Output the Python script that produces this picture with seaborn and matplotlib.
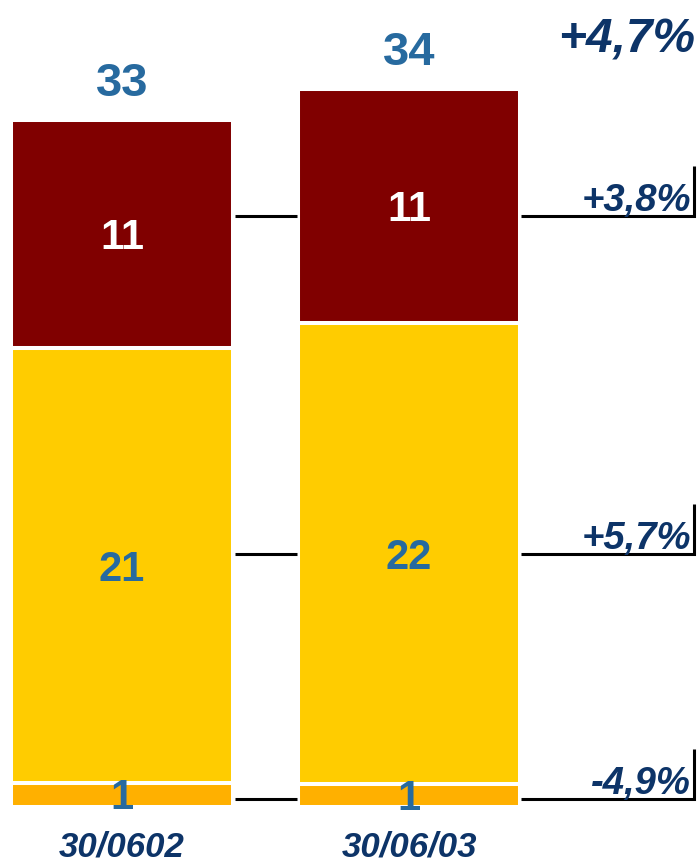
import matplotlib
matplotlib.use("Agg")
import matplotlib.pyplot as plt
import seaborn as sns
import pandas as pd
import numpy as np

# ---- data ----
dates = ["30/0602", "30/06/03"]
seg_orange = [1.15, 1.10]
seg_yellow = [20.69, 21.93]
seg_red = [10.88, 11.17]
total_labels = ["33", "34"]
orange_labels = ["1", "1"]
yellow_labels = ["21", "22"]
red_labels = ["11", "11"]
change_labels = ["+3,8%", "+5,7%", "-4,9%"]
total_change = "+4,7%"

# ---- style ----
sns.set_theme(style="white")
plt.rcParams['font.family'] = ['Liberation Sans', 'DejaVu Sans']
RED = "#800000"
YELLOW = "#FFCC00"
ORANGE = "#FFB000"
BLUE = "#276A9F"
NAVY = "#0D3468"

W, H = 699, 863
fig = plt.figure(figsize=(W / 100, H / 100), dpi=100)
ax = fig.add_axes([0, 0, 1, 1])

o = np.array(seg_orange)
y = np.array(seg_yellow)
r = np.array(seg_red)
cum_y = o + y
cum_r = o + y + r

bw = 0.7735
edge = 2.9
for vals, col in [(cum_r, RED), (cum_y, YELLOW), (o, ORANGE)]:
    sns.barplot(x=dates, y=vals, color=col, width=bw, edgecolor="white",
                linewidth=edge, errorbar=None, ax=ax, saturation=1)

S = 21.0  # px per unit
Y0 = 807
ax.set_xlim(-122 / 287, (W - 122) / 287)
ax.set_ylim(-(H - Y0) / S, Y0 / S)
ax.axis("off")

SEG_FS = 30
half_cap = SEG_FS * 1.389 * 0.716 / 2 / S  # half cap height in data units

# segment labels
for i in range(2):
    ax.text(i, o[i] / 2 - half_cap * 0.95, orange_labels[i], ha="center",
            va="baseline", color=BLUE, fontsize=SEG_FS, fontweight="bold")
    ax.text(i, o[i] + y[i] / 2 - half_cap, yellow_labels[i], ha="center",
            va="baseline", color=BLUE, fontsize=SEG_FS, fontweight="bold")
    ax.text(i, cum_y[i] + r[i] / 2 - half_cap, red_labels[i], ha="center",
            va="baseline", color="white", fontsize=SEG_FS, fontweight="bold")
    ax.text(i, cum_r[i] + 1.15, total_labels[i], ha="center", va="baseline",
            color=BLUE, fontsize=34, fontweight="bold")
    ax.text(i, -(856 - Y0) / S, dates[i], ha="center", va="baseline",
            color=NAVY, fontsize=25, fontweight="bold", fontstyle="italic")

# annotation overlay (pixel coordinates)
ax2 = fig.add_axes([0, 0, 1, 1])
ax2.set_xlim(0, W)
ax2.set_ylim(H, 0)
ax2.axis("off")
ax2.patch.set_alpha(0)

levels = [216, 554, 799]
lw = 2.2
for lv, lab in zip(levels, change_labels):
    ax2.plot([235, 297], [lv, lv], color="black", lw=lw, solid_capstyle="butt")
    ax2.plot([521, 694, 694], [lv, lv, lv - 50], color="black", lw=lw,
             solid_capstyle="butt", solid_joinstyle="miter")
    ax2.text(691, lv - 5, lab, ha="right", va="baseline", color=NAVY,
             fontsize=27.5, fontweight="bold", fontstyle="italic")

ax2.text(695, 52, total_change, ha="right", va="baseline", color=NAVY,
         fontsize=34.5, fontweight="bold", fontstyle="italic")

fig.savefig("out.png", dpi=100)
